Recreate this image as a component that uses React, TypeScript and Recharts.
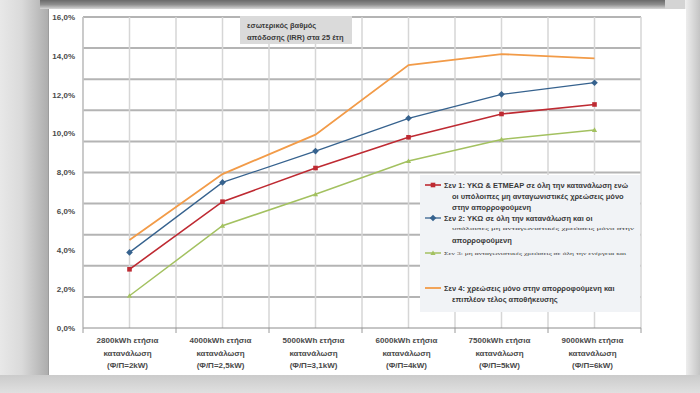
import React from 'react';
import { LineChart, Line, XAxis, YAxis, CartesianGrid } from 'recharts';

// ---- data ----
const categoryLines: string[][] = [
  ['2800kWh ετήσια', 'κατανάλωση', '(Φ/Π=2kW)'],
  ['4000kWh ετήσια', 'κατανάλωση', '(Φ/Π=2,5kW)'],
  ['5000kWh ετήσια', 'κατανάλωση', '(Φ/Π=3,1kW)'],
  ['6000kWh ετήσια', 'κατανάλωση', '(Φ/Π=4kW)'],
  ['7500kWh ετήσια', 'κατανάλωση', '(Φ/Π=5kW)'],
  ['9000kWh ετήσια', 'κατανάλωση', '(Φ/Π=6kW)'],
];
const sen1 = [3.02, 6.5, 8.23, 9.81, 11.01, 11.5];
const sen2 = [3.89, 7.49, 9.1, 10.79, 12.02, 12.62];
const sen3 = [1.66, 5.26, 6.88, 8.59, 9.7, 10.19];
const sen4 = [4.53, 7.92, 9.95, 13.53, 14.09, 13.87];
const yTicks = [0, 2, 4, 6, 8, 10, 12, 14, 16];
const hGridValues = [1.6, 3.2, 4.8, 6.4, 8, 9.6, 11.2, 12.8, 14.4, 16];
const titleLines = ['εσωτερικός βαθμός', 'απόδοσης (IRR) στα 25 έτη'];
const legendSen1 = [
  'Σεν 1: ΥΚΩ & ΕΤΜΕΑΡ σε όλη την κατανάλωση ενώ',
  'οι υπόλοιπες μη ανταγωνιστικές χρεώσεις  μόνο',
  'στην απορροφούμενη',
];
const legendSen2 = [
  'Σεν 2: ΥΚΩ σε όλη την κατανάλωση και οι',
  'υπόλοιπες μη ανταγωνιστικές χρεώσεις μόνο στην',
  'απορροφούμενη',
];
const legendSen3 = ['Σεν 3: μη ανταγωνιστικές χρεώσεις σε όλη την ενέργεια και'];
const legendSen4 = [
  'Σεν 4: χρεώσεις μόνο στην απορροφούμενη και',
  'επιπλέον τέλος αποθήκευσης',
];

const COLORS = { s1: '#be2a32', s2: '#36628e', s3: '#a3c160', s4: '#f29b48' };
const Y_MAX = 16;

const data = categoryLines.map((c, i) => ({
  x: i + 0.5,
  s1: sen1[i],
  s2: sen2[i],
  s3: sen3[i],
  s4: sen4[i],
}));

const xTicks = Array.from({ length: 13 }, (_, i) => i / 2);
const FONT = '"Liberation Sans", Arial, sans-serif';

const XTick = (props: any) => {
  const { x, y, payload } = props;
  const v = payload.value as number;
  if (Number.isInteger(v)) {
    return <line x1={x} x2={x} y1={y} y2={y + 5} stroke="#9a9a9a" strokeWidth={1} />;
  }
  const lines = categoryLines[Math.floor(v)];
  return (
    <g>
      {lines.map((l, i) => (
        <text key={i} x={x - 2} y={y + 15 + i * 12.5} textAnchor="middle" fontSize={8}
          fontWeight="bold" fill="#4a4a4a" fontFamily={FONT}>{l}</text>
      ))}
    </g>
  );
};

const SquareDot = (p: any) => (
  <rect key={p.index} x={p.cx - 2.3} y={p.cy - 2.3} width={4.6} height={4.6} fill={COLORS.s1} />
);
const DiamondDot = (p: any) => (
  <polygon key={p.index} points={`${p.cx},${p.cy - 3.3} ${p.cx + 3.3},${p.cy} ${p.cx},${p.cy + 3.3} ${p.cx - 3.3},${p.cy}`} fill={COLORS.s2} />
);
const TriDot = (p: any) => (
  <polygon key={p.index} points={`${p.cx},${p.cy - 2.6} ${p.cx + 2.6},${p.cy + 2} ${p.cx - 2.6},${p.cy + 2}`} fill={COLORS.s3} />
);

const LegendText = ({ x, y, text, tiny }: { x: number; y: number; text: string; tiny?: boolean }) => (
  <text x={x} y={y} fontSize={tiny ? 4.6 : 7.5} fontWeight={tiny ? 'normal' : 'bold'} fill="#3a3a3a"
    fontFamily={tiny ? '"Liberation Serif", serif' : FONT} textLength={tiny ? 182 : undefined}
    lengthAdjust="spacingAndGlyphs">{text}</text>
);

const hGen = (args: any) => {
  const { yAxis, offset } = args || {};
  return hGridValues.map((v) => {
    if (yAxis && typeof yAxis.scale === 'function') return yAxis.scale(v);
    return offset.top + offset.height * (1 - v / Y_MAX);
  });
};

const hLine = (p: any) => (
  <line key={p.key ?? `h-${p.index}`} x1={p.x1} y1={p.y1} x2={p.x2} y2={p.y2} stroke="#b4b4b4" strokeWidth={2} fill="none" />
);
const vLine = (p: any) => (
  <line key={p.key ?? `v-${p.index}`} x1={p.x1} y1={p.y1} x2={p.x2} y2={p.y2} stroke="#d6d6d6" strokeWidth={1.5} fill="none" />
);

export default function App() {
  return (
    <div style={{ position: 'fixed', left: 0, top: 0, width: 700, height: 393, overflow: 'hidden', background: '#d4d4d4' }}>
      {/* frame */}
      <div style={{ position: 'absolute', left: 0, top: 0, width: 48, height: 393, background: 'linear-gradient(to right, #e8e8e8 0%, #dadada 45%, #adadad 100%)' }} />
      <div style={{ position: 'absolute', left: 685, top: 0, width: 15, height: 393, background: 'linear-gradient(to right, #f0f0f0 0%, #c4c4c4 100%)' }} />
      <div style={{ position: 'absolute', left: 0, top: 375, width: 700, height: 18, background: 'linear-gradient(to bottom, #cbcbcb 0%, #e0e0e0 100%)' }} />
      <div style={{ position: 'absolute', left: 40, top: 0, width: 625, height: 9, background: 'linear-gradient(to bottom, #6a6a6a 0%, #8e8e8e 50%, #d8d8d8 100%)' }} />
      <div style={{ position: 'absolute', left: 48, top: 9, width: 637, height: 366, background: '#ffffff', borderLeft: '1px solid #9c9c9c' }} />
      <div style={{ position: 'absolute', left: 0, top: 0 }}>
        <LineChart width={700} height={393} data={data} margin={{ top: 17, right: 59, bottom: 18, left: 48 }}>
          <CartesianGrid horizontal={hLine} vertical={vLine} horizontalCoordinatesGenerator={hGen} syncWithTicks={false} />
          <XAxis dataKey="x" type="number" domain={[0, 6]} ticks={xTicks} interval={0}
            tickSize={0} tickMargin={0} tick={<XTick />} height={47} axisLine={{ stroke: '#8c8c8c' }} />
          <YAxis type="number" domain={[0, Y_MAX]} ticks={yTicks} width={35} tickLine={false}
            axisLine={{ stroke: '#b5b5b5' }} tickFormatter={(v: number) => `${v.toFixed(1).replace('.', ',')}%`}
            tick={{ fontSize: 8, fontWeight: 'bold', fill: '#4a4a4a', fontFamily: FONT }} />
          <Line dataKey="s4" stroke={COLORS.s4} strokeWidth={1.8} dot={false} isAnimationActive={false} />
          <Line dataKey="s3" stroke={COLORS.s3} strokeWidth={1.5} dot={<TriDot />} isAnimationActive={false} />
          <Line dataKey="s2" stroke={COLORS.s2} strokeWidth={1.3} dot={<DiamondDot />} isAnimationActive={false} />
          <Line dataKey="s1" stroke={COLORS.s1} strokeWidth={1.6} dot={<SquareDot />} isAnimationActive={false} />
        </LineChart>
      </div>
      <svg width={700} height={393} style={{ position: 'absolute', left: 0, top: 0, pointerEvents: 'none' }}>
        {/* title box */}
        <rect x={240} y={16} width={112} height={28} fill="#dadada" />
        {titleLines.map((t, i) => (
          <text key={i} x={247} y={28 + i * 12} fontSize={7.5} fontWeight="bold" fill="#3a3a3a" fontFamily={FONT}>{t}</text>
        ))}
        {/* legend */}
        <rect x={420} y={175} width={220} height={137} fill="#f1f3f6" />
        <line x1={425} x2={441} y1={185} y2={185} stroke={COLORS.s1} strokeWidth={1.6} />
        <rect x={430.7} y={182.7} width={4.6} height={4.6} fill={COLORS.s1} />
        {legendSen1.map((t, i) => <LegendText key={'a' + i} x={i === 0 ? 444 : 452} y={188 + i * 11} text={t} />)}
        <line x1={425} x2={441} y1={218} y2={218} stroke={COLORS.s2} strokeWidth={1.3} />
        <polygon points="433,214.7 436.3,218 433,221.3 429.7,218" fill={COLORS.s2} />
        {legendSen2.map((t, i) => <LegendText key={'b' + i} x={i === 0 ? 444 : 452} y={i === 1 ? 230 : 221 + i * 11} text={t} tiny={i === 1} />)}
        <line x1={425} x2={441} y1={253} y2={253} stroke={COLORS.s3} strokeWidth={1.5} />
        <polygon points="433,250.6 435.6,255 430.4,255" fill={COLORS.s3} />
        {legendSen3.map((t, i) => <LegendText key={'c' + i} x={444} y={254.5} text={t} tiny />)}
        <line x1={425} x2={441} y1={288} y2={288} stroke={COLORS.s4} strokeWidth={1.8} />
        {legendSen4.map((t, i) => <LegendText key={'d' + i} x={i === 0 ? 444 : 452} y={291 + i * 11} text={t} />)}
      </svg>
    </div>
  );
}
